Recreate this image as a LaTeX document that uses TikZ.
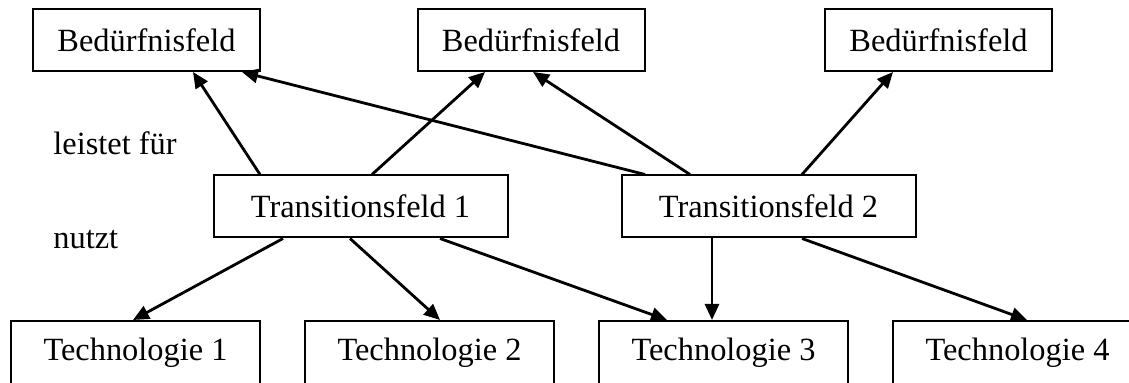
\documentclass[tikz,border=0pt]{standalone}
\usepackage{fontspec}
\setmainfont{Liberation Serif}
\usetikzlibrary{positioning}
\usetikzlibrary{arrows.meta}
\usetikzlibrary{calc}
\tikzset{
  kasten/.style={
    rectangle, draw=black, line width=1pt, fill=white,
    minimum height=31pt, minimum width=113.5pt,
    align=center, font=\fontsize{16.2}{19}\selectfont, inner sep=0pt
  },
  kastent/.style={kasten, minimum width=147pt},
  kastenu/.style={kasten, minimum width=124.5pt, minimum height=32pt},
  pfeil/.style={-{Triangle[length=8pt,width=7pt]}, line width=1.4pt},
  beschriftung/.style={anchor=west, inner sep=0pt, font=\fontsize{16.2}{19}\selectfont}
}

\begin{document}
\begin{tikzpicture}[x=0.5pt, y=-0.5pt]
  \useasboundingbox (0,0) rectangle (1129,383);
  \clip (0,0) rectangle (1129,383);
  % Bedürfnisfelder
  \node[kasten] (b1) at (146.5,40) {Bedürfnisfeld};
  \node[kasten] (b2) at (531,40) {Bedürfnisfeld};
  \node[kasten] (b3) at (938.5,40) {Bedürfnisfeld};
  % Transitionsfelder
  \node[kastent] (tf1) at (360.5,206.5) {Transitionsfeld 1};
  \node[kastent] (tf2) at (768.5,206.5) {Transitionsfeld 2};
  % Technologien
  \node[kastenu] (t1) at (135.5,353) {Technologie 1};
  \node[kastenu] (t2) at (429.5,353) {Technologie 2};
  \node[kastenu] (t3) at (723.5,353) {Technologie 3};
  \node[kastenu] (t4) at (1017.5,353) {Technologie 4};
  \node[beschriftung] (leistet) at (53,143) {leistet für};
  \node[beschriftung] (nutzt) at (53,240) {nutzt};
  % leistet für
  \draw[pfeil] ($(tf1.north)+(-100.5,0)$) -- ($(b1.south)+(46.5,0)$);
  \draw[pfeil] ($(tf1.north)+(11.5,0)$) -- ($(b2.south)+(-46,0)$);
  \draw[pfeil] ($(tf2.north)+(-123.5,0)$) -- ($(b1.south)+(95.5,0)$);
  \draw[pfeil] ($(tf2.north)+(-78.5,0)$) -- ($(b2.south)+(2,0)$);
  \draw[pfeil] ($(tf2.north)+(33.5,0)$) -- ($(b3.south)+(-45.5,0)$);
  % nutzt
  \draw[pfeil] ($(tf1.south)+(-77.5,0)$) -- ($(t1.north)+(-2.5,0)$);
  \draw[pfeil] ($(tf1.south)+(-10.5,0)$) -- ($(t2.north)+(10.5,0)$);
  \draw[pfeil] ($(tf1.south)+(79.5,0)$) -- ($(t3.north)+(-56.5,0)$);
  \draw[pfeil] ($(tf2.south)+(-56.5,0)$) -- ($(t3.north)+(-11.5,0)$);
  \draw[pfeil] ($(tf2.south)+(33.5,0)$) -- ($(t4.north)+(9.5,0)$);
\end{tikzpicture}
\end{document}
